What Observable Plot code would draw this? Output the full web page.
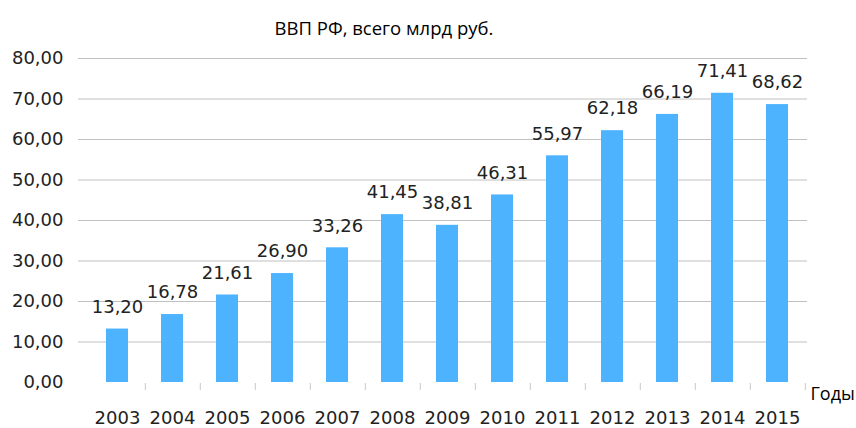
<!DOCTYPE html>
<html>
<head>
<meta charset="utf-8">
<script src="https://cdn.jsdelivr.net/npm/d3@7"></script>
<script src="https://cdn.jsdelivr.net/npm/@observablehq/plot@0.6"></script>
<style>
  html, body { margin: 0; padding: 0; background: #fff; }
</style>
</head>
<body>
<div id="chart"></div>
<script>
const years = ["2003","2004","2005","2006","2007","2008","2009","2010","2011","2012","2013","2014","2015"];
const gdp = [13.20, 16.78, 21.61, 26.90, 33.26, 41.45, 38.81, 46.31, 55.97, 62.18, 66.19, 71.41, 68.62];
const yTicks = [0, 10, 20, 30, 40, 50, 60, 70, 80];
const title = "ВВП РФ, всего млрд руб.";
const xLabel = "Годы";

const data = years.map((y, i) => ({year: y, value: gdp[i]}));
const fmt = v => v.toFixed(2).replace(".", ",");

const chart = Plot.plot({
  width: 856,
  height: 428,
  marginTop: 58,
  marginBottom: 46,
  marginLeft: 85,
  marginRight: 48,
  style: {fontFamily: "DejaVu Sans", fontSize: "18px", color: "#222", background: "#fff"},
  x: {domain: years, paddingInner: 0.6, paddingOuter: 0.3, label: null, tickSize: 0, tickPadding: 29},
  y: {domain: [0, 80], ticks: yTicks, tickFormat: fmt, label: null, tickSize: 0, tickPadding: 22},
  marks: [
    Plot.ruleY(yTicks.filter(d => d > 0), {stroke: "#c0c0c0", strokeWidth: 1, insetLeft: -7, insetRight: 1}),
    Plot.barY(data, {x: "year", y: "value", fill: "#4db3ff"}),
    Plot.ruleX(data, {x: "year", y1: 0, y2: 0, dx: 27.8, insetTop: 1, insetBottom: -8, stroke: "#c8c8c8"}),
    Plot.text(data, {x: "year", y: "value", text: d => fmt(d.value), dy: -22, fontSize: 18, fill: "#222"}),
    Plot.text([title], {frameAnchor: "top", dx: -63, dy: -37, fontFamily: "Open Sans", fontSize: 18.5, fill: "#000"}),
    Plot.text([xLabel], {frameAnchor: "bottom-right", textAnchor: "start", dx: 2, dy: 17, fontFamily: "Open Sans", fontSize: 18, fill: "#000"})
  ]
});
document.getElementById("chart").appendChild(chart);
</script>
</body>
</html>
